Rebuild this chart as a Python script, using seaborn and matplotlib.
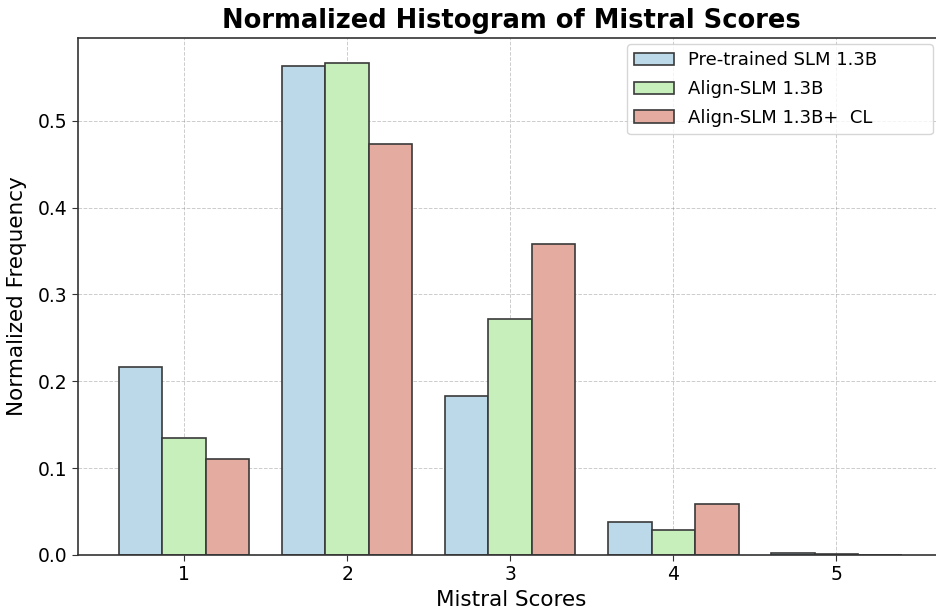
import numpy as np
import pandas as pd
import matplotlib
matplotlib.use("Agg")
import matplotlib.pyplot as plt
import seaborn as sns

# values
scores = ["1", "2", "3", "4", "5"]
models = ["Pre-trained SLM 1.3B", "Align-SLM 1.3B", "Align-SLM 1.3B+  CL"]
pretrained = [0.216, 0.563, 0.183, 0.038, 0.002]
align = [0.135, 0.567, 0.272, 0.029, 0.0015]
align_cl = [0.111, 0.473, 0.358, 0.059, 0.0005]
colors = ["#bcd9ea", "#c7efbb", "#e4aca0"]

df = pd.DataFrame({
    "score": scores * 3,
    "model": np.repeat(models, len(scores)),
    "freq": pretrained + align + align_cl,
})

sns.set_style("white")
plt.rcParams["font.family"] = ["DejaVu Sans"]
plt.rcParams.update({"text.color": "black", "axes.labelcolor": "black",
                     "xtick.color": "black", "ytick.color": "black"})

fig = plt.figure(figsize=(9.36, 6.14), dpi=100)
ax = fig.add_axes([78 / 936, 59 / 614, 866 / 936, 517 / 614])

sns.barplot(data=df, x="score", y="freq", hue="model", palette=colors,
            edgecolor="#3a3a3a", linewidth=1.2, ax=ax, saturation=1, err_kws={"linewidth": 0})

ax.set_xlim(-0.65, 4.66)
ax.set_title("Normalized Histogram of Mistral Scores", fontsize=18.5, fontweight="bold", pad=7)
ax.set_xlabel("Mistral Scores", fontsize=15.5, labelpad=4)
ax.set_ylabel("Normalized Frequency", fontsize=15.5, labelpad=8)
ax.tick_params(axis="both", labelsize=13.5, left=True, bottom=True, length=4, color="#333333")
ax.grid(True, linestyle="--", color="gray", alpha=0.4, linewidth=0.7)
ax.set_axisbelow(True)
for s in ax.spines.values():
    s.set_color("#333333")
    s.set_linewidth(1.2)

# legend box is wider than its labels in the reference
ax.legend(loc="upper left", bbox_to_anchor=(0.634, 0.988, 0.353, 0), mode="expand",
          borderaxespad=0, fontsize=13, title=None, frameon=True,
          handlelength=2.2, labelspacing=0.6)

fig.savefig("out.png", dpi=100)
